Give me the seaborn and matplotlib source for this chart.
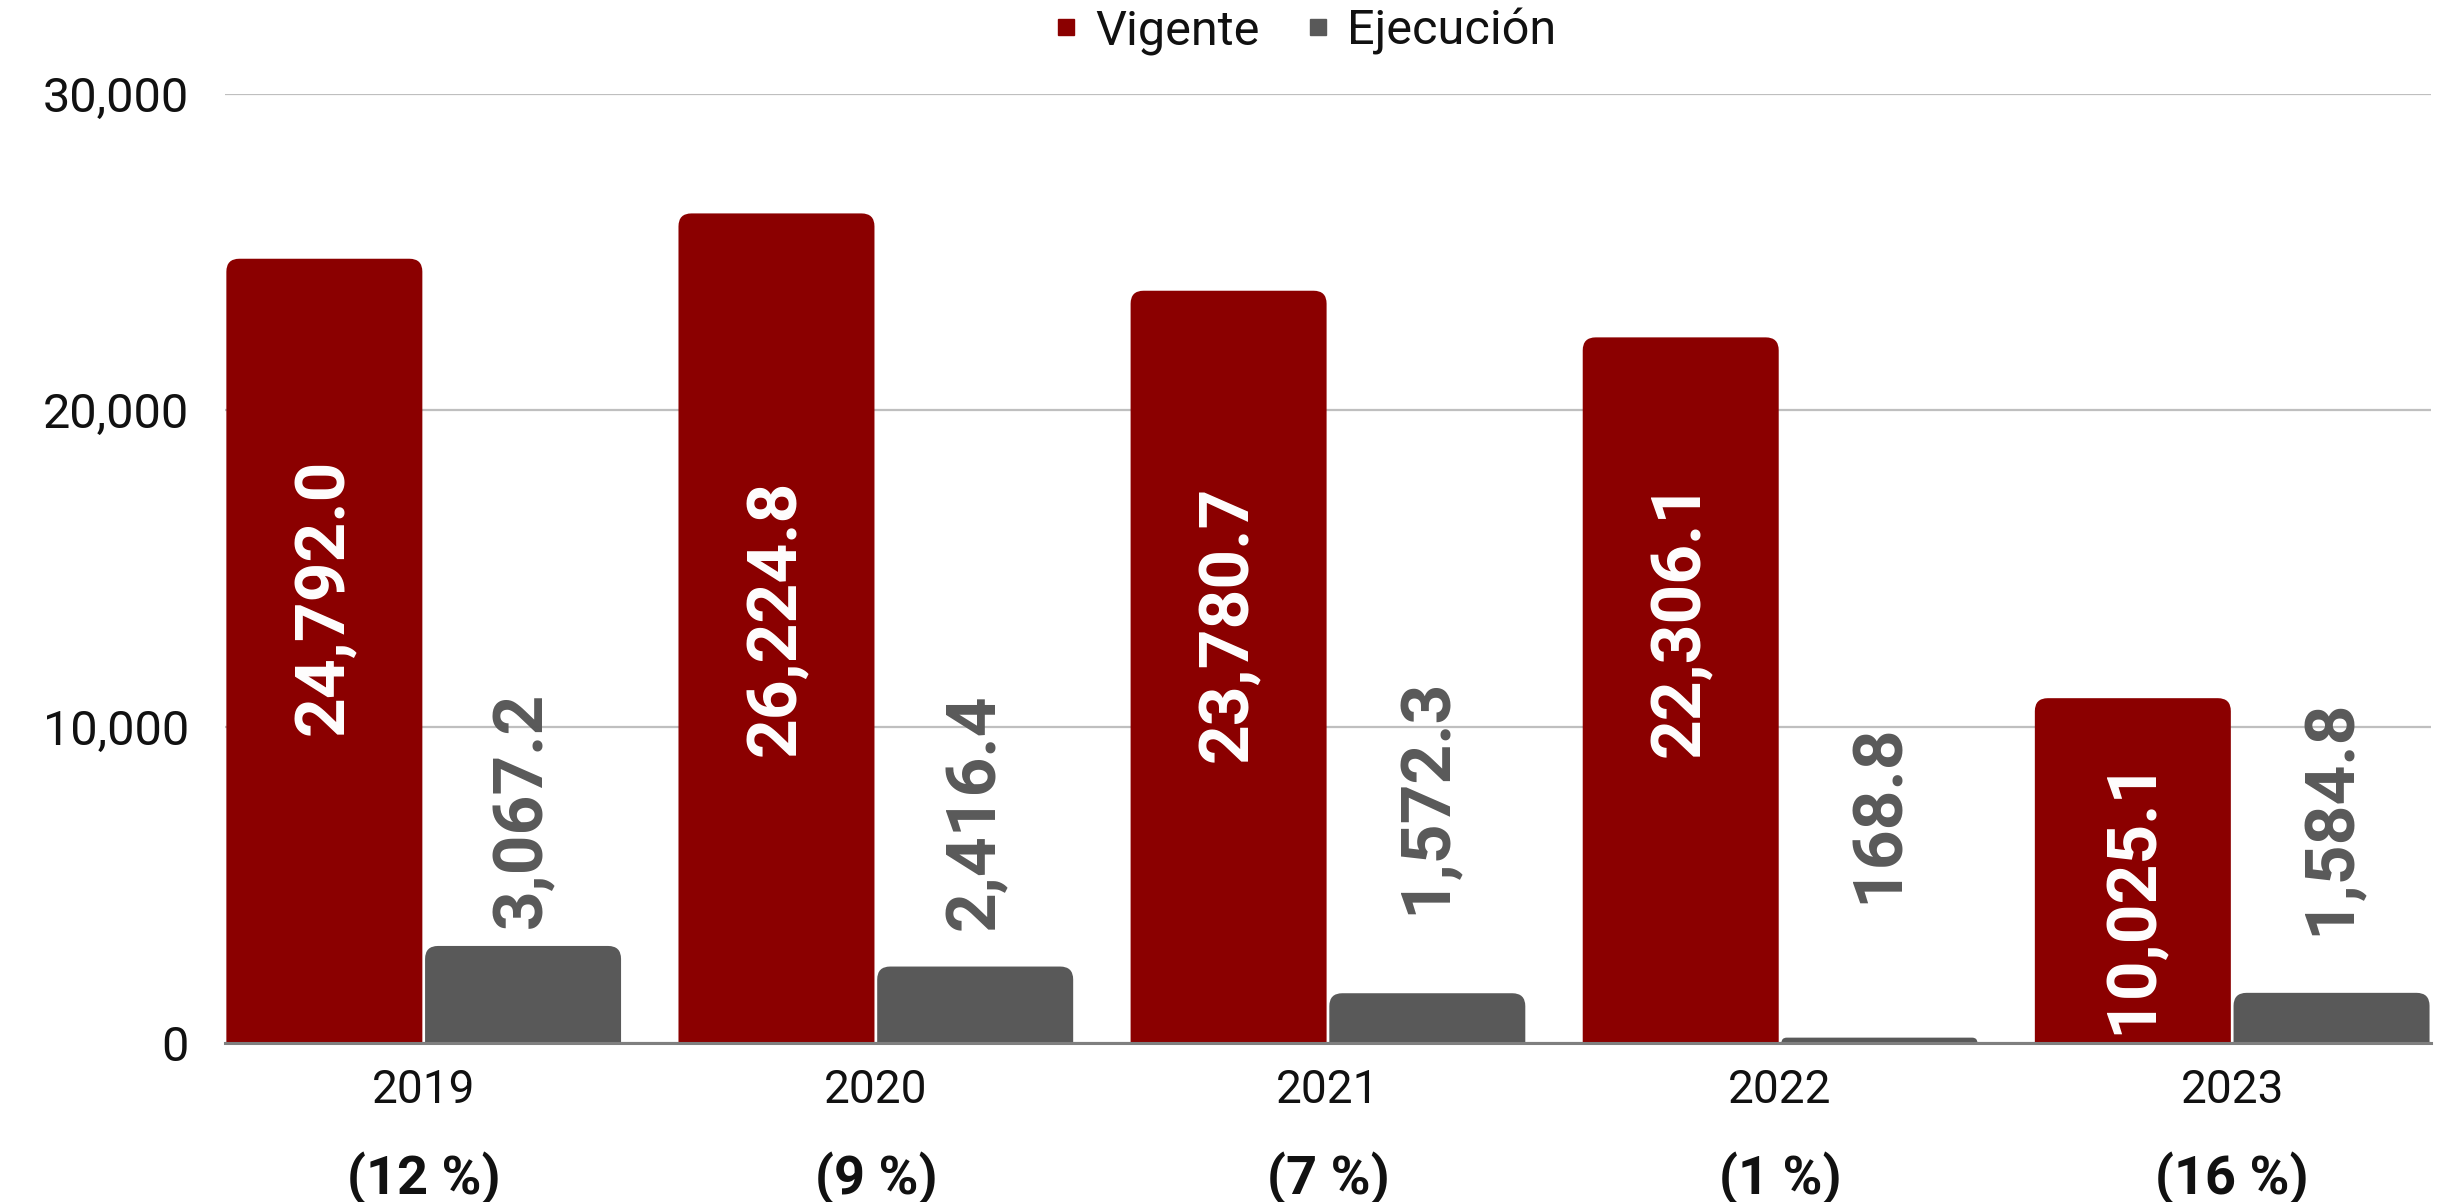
import matplotlib
matplotlib.use("Agg")
import matplotlib.pyplot as plt
import seaborn as sns
import pandas as pd
from matplotlib.patches import PathPatch, Rectangle
from matplotlib.path import Path
from matplotlib.lines import Line2D
from matplotlib.ticker import FuncFormatter

# ---- data ----
years = ["2019", "2020", "2021", "2022", "2023"]
series = ["Vigente", "Ejecución"]
vigente = [24792.0, 26224.8, 23780.7, 22306.1, 10900.0]
vigente_labels = ["24,792.0", "26,224.8", "23,780.7", "22,306.1", "10,025.1"]
ejecucion = [3067.2, 2416.4, 1572.3, 168.8, 1584.8]
ejecucion_labels = ["3,067.2", "2,416.4", "1,572.3", "168.8", "1,584.8"]
porcentaje = ["(12 %)", "(9 %)", "(7 %)", "(1 %)", "(16 %)"]

# ---- style ----
RED = "#8B0000"
GRAY = "#595959"
TXT = "#111111"
sns.set_theme(style="white")
plt.rcParams["font.family"] = ["Roboto", "DejaVu Sans"]

df = pd.DataFrame({
    "year": years * 2,
    "serie": [series[0]] * len(years) + [series[1]] * len(years),
    "valor": vigente + ejecucion,
})

fig = plt.figure(figsize=(24.51, 12.02), dpi=100)
ax = fig.add_axes([0.0918, 0.1323, 0.9000, 0.7895])

sns.barplot(data=df, x="year", y="valor", hue="serie", order=years,
            hue_order=series, palette=[RED, GRAY], width=0.879,
            saturation=1, errorbar=None, ax=ax)

ax.set_ylim(0, 30000)
ax.set_xlim(-0.4395, 4.4395)

# replace bars with top-rounded bars (single path each)
px_per_x = 2206 / 4.879
px_per_y = 949 / 30000
rad_px = 13
rx0 = rad_px / px_per_x
ry0 = rad_px / px_per_y
bars = [p for p in ax.patches if isinstance(p, Rectangle)]
for p in bars:
    x, w, h = p.get_x(), p.get_width(), p.get_height()
    col = p.get_facecolor()
    p.set_visible(False)
    x0, x1 = x + 0.003, x + w - 0.003
    ry = min(ry0, h)
    rx = rx0 * (ry / ry0)
    verts = [(x0, 0), (x0, h - ry), (x0, h), (x0 + rx, h), (x1 - rx, h),
             (x1, h), (x1, h - ry), (x1, 0), (x0, 0)]
    codes = [Path.MOVETO, Path.LINETO, Path.CURVE3, Path.CURVE3, Path.LINETO,
             Path.CURVE3, Path.CURVE3, Path.LINETO, Path.CLOSEPOLY]
    ax.add_patch(PathPatch(Path(verts, codes), facecolor=col,
                           edgecolor="none", zorder=2))

# grid / spines
ax.yaxis.grid(True, color="#BFBFBF", linewidth=1.6, zorder=0)
ax.set_axisbelow(True)
for s in ["top", "right", "left"]:
    ax.spines[s].set_visible(False)
ax.spines["bottom"].set_color("#7F7F7F")
ax.spines["bottom"].set_linewidth(2.2)
ax.spines["bottom"].set_zorder(3)
ax.set_yticks([0, 10000, 20000, 30000])
ax.yaxis.set_major_formatter(FuncFormatter(lambda v, _: f"{v:,.0f}"))
ax.tick_params(axis="y", length=0, pad=26, labelsize=35, labelcolor=TXT)
ax.tick_params(axis="x", length=0, pad=18, labelsize=33, labelcolor=TXT)
ax.set_xlabel("")
ax.set_ylabel("")

# value labels
bw = 0.879 / 2
vig_label_y = [14100, 13437, 13247, 13405, 4647]
eje_label_y = [3630, 3572, 4078, 4420, 3415]
for i in range(len(years)):
    ax.text(i - bw / 2, vig_label_y[i], vigente_labels[i], rotation=90,
            ha="center", va="center", color="white", fontsize=50,
            fontweight="bold", zorder=4)
    ax.text(i + bw / 2, eje_label_y[i], ejecucion_labels[i], rotation=90,
            ha="center", va="bottom", color=GRAY, fontsize=50,
            fontweight="bold", zorder=4)
    ax.text(i, -0.143, porcentaje[i], transform=ax.get_xaxis_transform(),
            ha="center", va="center", fontsize=39, fontweight="bold",
            color=TXT)

# legend
handles = [Line2D([0], [0], marker="s", linestyle="none", markersize=12,
                  markerfacecolor=c, markeredgecolor=c) for c in (RED, GRAY)]
leg = ax.legend(handles, series, loc="center", bbox_to_anchor=(0.531, 0.974),
                bbox_transform=fig.transFigure, ncol=2, frameon=False,
                fontsize=35, handletextpad=0.2, columnspacing=0.8,
                handlelength=0.8)
for t in leg.get_texts():
    t.set_color(TXT)

fig.savefig("out.png", dpi=100)
